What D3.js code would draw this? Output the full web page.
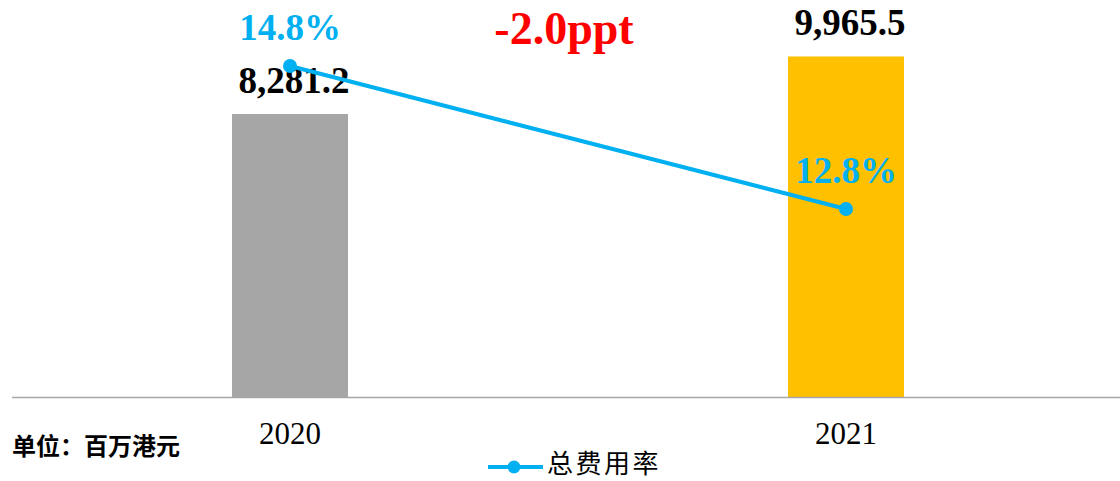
<!DOCTYPE html>
<html>
<head>
<meta charset="utf-8">
<script src="https://cdn.jsdelivr.net/npm/d3@7"></script>
<style>
  body { margin: 0; background: #fff; }
  svg { display: block; }
</style>
</head>
<body>
<div id="chart"></div>
<script>
// data
var years = ["2020", "2021"];
var expenses = [8281.2, 9965.5];      // 单位：百万港元
var expenseRatio = [14.8, 12.8];      // 总费用率 %
var barColors = ["#A6A6A6", "#FFC000"];
var changeLabel = "-2.0ppt";

////////////////////////// Setup //////////////////////////
var W = 1120, H = 481,
    baseY = 397,
    left = 12, right = 1120;

var svg = d3.select("#chart").append("svg")
  .attr("width", W).attr("height", H);

var x = d3.scalePoint()
  .domain(years)
  .range([left, 1124])
  .padding(0.5);

var y = d3.scaleLinear()
  .domain([0, 11618])
  .range([baseY, 0]);

var y2 = d3.scaleLinear()
  .domain([10, 16])
  .range([409.2, -19.8]);

var barW = 116;
var serif = "'Liberation Serif', 'Times New Roman', serif";
var cjk = "'Noto Sans CJK SC', sans-serif";
var blue = "#00B0F0";

////////////////////////// Bars //////////////////////////
svg.selectAll(".bar")
  .data(years)
  .enter().append("rect")
  .attr("class", "bar")
  .attr("x", function(d) { return x(d) - barW / 2; })
  .attr("y", function(d, i) { return y(expenses[i]); })
  .attr("width", barW)
  .attr("height", function(d, i) { return baseY - y(expenses[i]); })
  .attr("fill", function(d, i) { return barColors[i]; });

// axis line
svg.append("line")
  .attr("x1", left).attr("x2", right)
  .attr("y1", baseY + 0.5).attr("y2", baseY + 0.5)
  .attr("stroke", "#A6A6A6")
  .attr("stroke-width", 1.3);

// year labels
svg.selectAll(".year")
  .data(years)
  .enter().append("text")
  .attr("class", "year")
  .attr("x", function(d) { return x(d); })
  .attr("y", 444)
  .attr("text-anchor", "middle")
  .style("font-family", serif)
  .style("font-size", "31px")
  .attr("fill", "#000")
  .text(function(d) { return d; });

// bar value labels
svg.selectAll(".val")
  .data(years)
  .enter().append("text")
  .attr("class", "val")
  .attr("x", function(d) { return x(d) + 4; })
  .attr("y", function(d, i) { return y(expenses[i]) - 21; })
  .attr("text-anchor", "middle")
  .style("font-family", serif)
  .style("font-weight", "bold")
  .style("font-size", "37px")
  .attr("fill", "#000")
  .text(function(d, i) { return d3.format(",.1f")(expenses[i]); });

////////////////////////// Line //////////////////////////
var line = d3.line()
  .x(function(d, i) { return x(years[i]); })
  .y(function(d) { return y2(d); });

svg.append("path")
  .datum(expenseRatio)
  .attr("d", line)
  .attr("fill", "none")
  .attr("stroke", blue)
  .attr("stroke-width", 4);

svg.selectAll(".dot")
  .data(expenseRatio)
  .enter().append("circle")
  .attr("class", "dot")
  .attr("cx", function(d, i) { return x(years[i]); })
  .attr("cy", function(d) { return y2(d); })
  .attr("r", 7)
  .attr("fill", blue);

// ratio labels above each point
svg.selectAll(".ratio")
  .data(expenseRatio)
  .enter().append("text")
  .attr("class", "ratio")
  .attr("x", function(d, i) { return x(years[i]); })
  .attr("y", function(d) { return y2(d) - 26; })
  .attr("text-anchor", "middle")
  .style("font-family", serif)
  .style("font-weight", "bold")
  .style("font-size", "37px")
  .attr("fill", blue)
  .text(function(d) { return d.toFixed(1) + "%"; });

// change annotation
svg.append("text")
  .attr("x", 564)
  .attr("y", 44)
  .attr("text-anchor", "middle")
  .style("font-family", serif)
  .style("font-weight", "bold")
  .style("font-size", "46px")
  .attr("fill", "#FF0000")
  .text(changeLabel);

////////////////////////// Unit & legend //////////////////////////
svg.append("text")
  .attr("x", 12)
  .attr("y", 455)
  .style("font-family", cjk)
  .style("font-weight", "bold")
  .style("font-size", "24px")
  .attr("fill", "#000")
  .text("单位：百万港元");

var lg = svg.append("g").attr("transform", "translate(488,467)");
lg.append("line")
  .attr("x1", 0).attr("x2", 55)
  .attr("stroke", blue).attr("stroke-width", 4);
lg.append("circle")
  .attr("cx", 26).attr("r", 6.5).attr("fill", blue);
lg.append("text")
  .attr("x", 59)
  .attr("y", 6)
  .style("font-family", cjk)
  .style("font-size", "26px")
  .style("letter-spacing", "2.5px")
  .attr("fill", "#000")
  .text("总费用率");
</script>
</body>
</html>
